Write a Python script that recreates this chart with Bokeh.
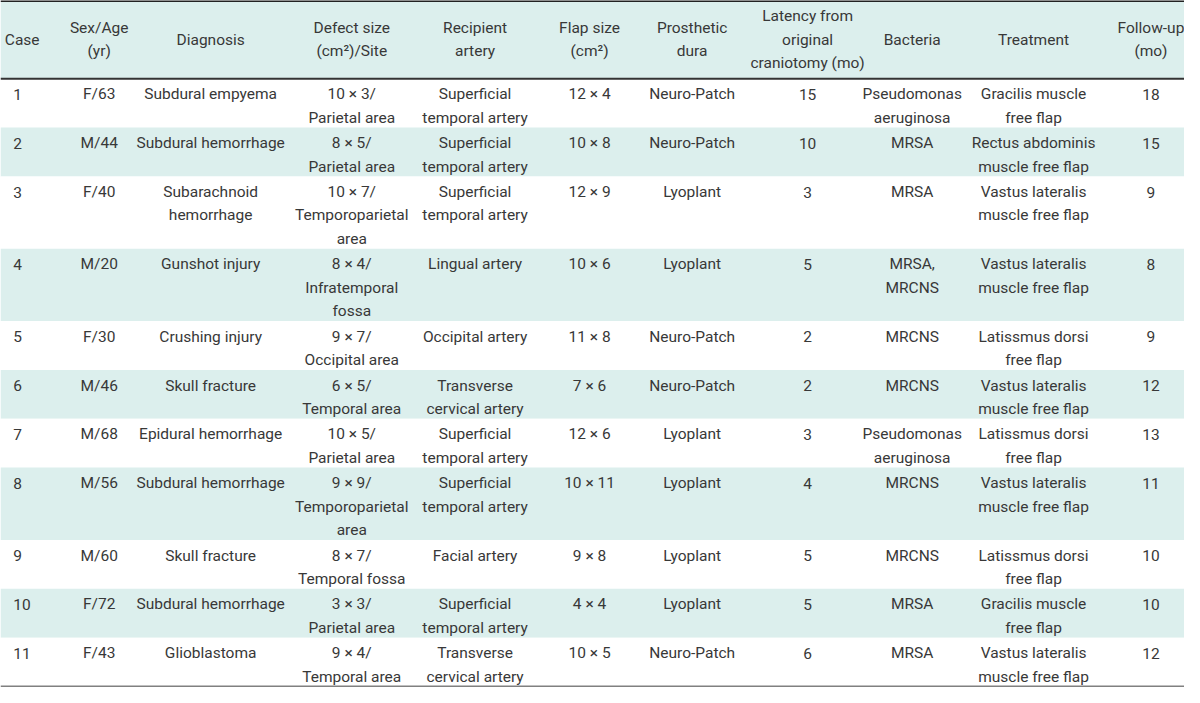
from bokeh.plotting import figure
from bokeh.models import Range1d, ColumnDataSource
from bokeh.embed import file_html
from bokeh.resources import INLINE
from bokeh.core.properties import value

headers = ["Case", "Sex/Age\n(yr)", "Diagnosis", "Defect size\n(cm\u00b2)/Site", "Recipient\nartery",
           "Flap size\n(cm\u00b2)", "Prosthetic\ndura", "Latency from\noriginal\ncraniotomy (mo)",
           "Bacteria", "Treatment", "Follow-up\n(mo)"]

case = ["1", "2", "3", "4", "5", "6", "7", "8", "9", "10", "11"]
sex_age = ["F/63", "M/44", "F/40", "M/20", "F/30", "M/46", "M/68", "M/56", "M/60", "F/72", "F/43"]
diagnosis = ["Subdural empyema", "Subdural hemorrhage", "Subarachnoid\nhemorrhage", "Gunshot injury",
             "Crushing injury", "Skull fracture", "Epidural hemorrhage", "Subdural hemorrhage",
             "Skull fracture", "Subdural hemorrhage", "Glioblastoma"]
defect = ["10 \u00d7 3/\nParietal area", "8 \u00d7 5/\nParietal area", "10 \u00d7 7/\nTemporoparietal\narea",
          "8 \u00d7 4/\nInfratemporal\nfossa", "9 \u00d7 7/\nOccipital area", "6 \u00d7 5/\nTemporal area",
          "10 \u00d7 5/\nParietal area", "9 \u00d7 9/\nTemporoparietal\narea", "8 \u00d7 7/\nTemporal fossa",
          "3 \u00d7 3/\nParietal area", "9 \u00d7 4/\nTemporal area"]
artery = ["Superficial\ntemporal artery", "Superficial\ntemporal artery", "Superficial\ntemporal artery",
          "Lingual artery", "Occipital artery", "Transverse\ncervical artery", "Superficial\ntemporal artery",
          "Superficial\ntemporal artery", "Facial artery", "Superficial\ntemporal artery",
          "Transverse\ncervical artery"]
flap = ["12 \u00d7 4", "10 \u00d7 8", "12 \u00d7 9", "10 \u00d7 6", "11 \u00d7 8", "7 \u00d7 6", "12 \u00d7 6",
        "10 \u00d7 11", "9 \u00d7 8", "4 \u00d7 4", "10 \u00d7 5"]
dura = ["Neuro-Patch", "Neuro-Patch", "Lyoplant", "Lyoplant", "Neuro-Patch", "Neuro-Patch", "Lyoplant",
        "Lyoplant", "Lyoplant", "Lyoplant", "Neuro-Patch"]
latency = ["15", "10", "3", "5", "2", "2", "3", "4", "5", "5", "6"]
bacteria = ["Pseudomonas\naeruginosa", "MRSA", "MRSA", "MRSA,\nMRCNS", "MRCNS", "MRCNS",
            "Pseudomonas\naeruginosa", "MRCNS", "MRCNS", "MRSA", "MRSA"]
treatment = ["Gracilis muscle\nfree flap", "Rectus abdominis\nmuscle free flap",
             "Vastus lateralis\nmuscle free flap", "Vastus lateralis\nmuscle free flap",
             "Latissmus dorsi\nfree flap", "Vastus lateralis\nmuscle free flap",
             "Latissmus dorsi\nfree flap", "Vastus lateralis\nmuscle free flap",
             "Latissmus dorsi\nfree flap", "Gracilis muscle\nfree flap", "Vastus lateralis\nmuscle free flap"]
followup = ["18", "15", "9", "8", "9", "12", "13", "11", "10", "10", "12"]

columns = [case, sex_age, diagnosis, defect, artery, flap, dura, latency, bacteria, treatment, followup]

# layout (pixel coordinates of the table)
W, H = 1200, 703
col_x = [13, 100, 213, 356, 481, 597, 701, 818, 924, 1047, 1166]
col_align = ["left"] + ["center"] * 10
header_x = [22] + col_x[1:]
HEADER_H = 80
LINE_H = 24
FONT = "Roboto"
FS = "15.5px"
TXT = "#383838"
TEAL = "#dcefed"

p = figure(width=1184, height=687, output_backend="svg", toolbar_location=None,
           x_range=Range1d(0, W), y_range=Range1d(H, 0), min_border=0)
p.axis.visible = False
p.grid.visible = False
p.outline_line_color = None
p.background_fill_color = "white"
p.border_fill_color = "white"

# row geometry
nlines = [max(len(col[i].split("\n")) for col in columns) for i in range(len(case))]
tops, bots = [], []
y = HEADER_H
for n in nlines:
    h = LINE_H * n + 2
    tops.append(y)
    bots.append(y + h)
    y += h
fills = [TEAL if i % 2 == 1 else "white" for i in range(len(case))]

p.quad(left=[0], right=[W], top=[1], bottom=[HEADER_H], fill_color=TEAL, line_color=None)
p.quad(left=[0] * len(tops), right=[W] * len(tops), top=tops, bottom=bots,
       fill_color=fills, line_color=None)

# texts
tx, ty, tt, ta = [], [], [], []
for j, hdr in enumerate(headers):
    lines = hdr.split("\n")
    n = len(lines)
    for k, ln in enumerate(lines):
        tx.append(header_x[j])
        ty.append(HEADER_H / 2 + (k - (n - 1) / 2) * LINE_H)
        tt.append(ln)
        ta.append("center")
for i in range(len(case)):
    for j, col in enumerate(columns):
        for k, ln in enumerate(col[i].split("\n")):
            tx.append(col_x[j])
            ty.append(tops[i] + 16 + k * LINE_H)
            tt.append(ln)
            ta.append(col_align[j])

src = ColumnDataSource(dict(x=tx, y=ty, text=tt, align=ta))
p.text(x="x", y="y", text="text", text_align="align", source=src, text_baseline="middle",
       text_font=value(FONT), text_font_size=FS, text_color=TXT)

# rules
p.segment(x0=[0], x1=[W], y0=[0.5], y1=[0.5], line_color="#222222", line_width=2)
p.segment(x0=[0], x1=[W], y0=[HEADER_H], y1=[HEADER_H], line_color="#333333", line_width=2)
p.segment(x0=[0], x1=[W], y0=[bots[-1]], y1=[bots[-1]], line_color="#808080", line_width=2)

open("out.html", "w").write(file_html(p, INLINE))
